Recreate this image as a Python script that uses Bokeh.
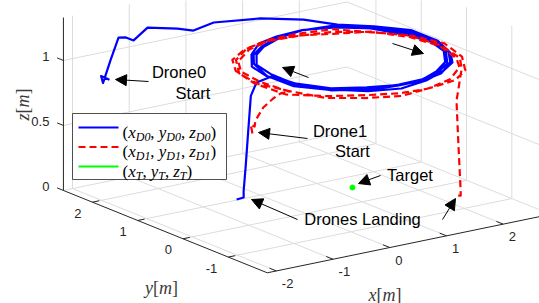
import numpy as np
from bokeh.plotting import figure
from bokeh.models import Range1d, Arrow, NormalHead
from bokeh.core.properties import value
from bokeh.embed import file_html
from bokeh.resources import INLINE

# ---------------- axis data ----------------
X_LIM = [-2.16, 2.84]
Y_LIM = [-1.86, 2.64]
Z_LIM = [0.0, 1.33]
X_TICKS = [-2, -1, 0, 1, 2]
X_TICK_LABELS = ["-2", "-1", "0", "1", "2"]
Y_TICKS = [-1, 0, 1, 2]
Y_TICK_LABELS = ["-1", "0", "1", "2"]
Z_TICKS = [0.0, 0.5, 1.0]
Z_TICK_LABELS = ["0", "0.5", "1"]

# ---------------- Drone 0 (blue) ----------------
D0_START_X = [-1.62, -1.72, -1.75, -1.54, -1.42, -1.33, -1.25, -0.98, -0.66, -0.53, -0.06, 0.60, 1.26, 1.85]
D0_START_Y = [2.30, 2.36, 2.28, 2.38, 2.35, 2.30, 2.23, 2.26, 2.00, 1.81, 1.95, 1.75, 1.62, 1.61]
D0_START_Z = [0.85, 0.88, 0.84, 0.98, 1.15, 1.15, 1.13, 1.20, 1.20, 1.20, 1.20, 1.20, 1.15, 1.06]

D0_LOOP_CENTER = [1.26, 0.56]
D0_LOOP_THETA = [40, 20, 0, -20, -40, -60, -80, -100, -120, -140, -160, -180, -200, -220, -240, -260, -280, -300,
                 -320, -340, -360, -380, -400, -420, -440, -460, -480, -500, -520, -540, -560, -580, -600, -620, -640, -660,
                 -680, -700, -720, -740, -760, -780, -800, -820, -840, -860, -880, -900, -920, -940, -960, -980, -1000, -1020,
                 -1040, -1060, -1080, -1100, -1120, -1140, -1160, -1180, -1200, -1220, -1240, -1260]
D0_LOOP_R = [1.55, 1.57, 1.52, 1.44, 1.39, 1.36, 1.37, 1.43, 1.51, 1.55, 1.55, 1.50, 1.45, 1.38, 1.37, 1.38, 1.42, 1.50,
             1.48, 1.48, 1.44, 1.37, 1.32, 1.29, 1.30, 1.36, 1.42, 1.47, 1.49, 1.43, 1.38, 1.31, 1.30, 1.31, 1.37, 1.43,
             1.52, 1.54, 1.48, 1.41, 1.36, 1.33, 1.34, 1.40, 1.47, 1.51, 1.53, 1.49, 1.42, 1.35, 1.33, 1.35, 1.41, 1.47,
             1.44, 1.45, 1.41, 1.34, 1.29, 1.26, 1.28, 1.33, 1.39, 1.44, 1.46, 1.40]
D0_LOOP_Z = [1.00, 1.01, 1.00, 0.99, 1.00, 1.01, 1.00, 0.99, 1.00, 1.01, 1.00, 1.00, 0.99, 1.00, 1.01, 1.00, 1.00, 0.99,
             1.01, 1.00, 1.00, 1.01, 0.99, 1.00, 1.00, 1.01, 1.00, 0.99, 1.00, 1.01, 1.00, 1.00, 0.99, 1.00, 1.01, 1.00,
             0.99, 1.00, 1.01, 1.00, 1.00, 0.99, 1.00, 1.01, 1.00, 1.00, 0.99, 1.00, 1.01, 1.00, 0.99, 1.00, 1.00, 1.01,
             1.00, 0.99, 1.00, 1.01, 1.00, 1.00, 0.99, 1.00, 1.01, 1.00, 1.00, 0.99]

D0_LAND_X = [-0.24, -0.245, -0.25, -0.255, -0.26, -0.26, -0.40]
D0_LAND_Y = [0.78, 0.90, 0.95, 1.00, 1.04, 1.04, 1.02]
D0_LAND_Z = [0.92, 0.80, 0.53, 0.25, 0.05, 0.00, 0.00]

# ---------------- Drone 1 (red) ----------------
D1_START_X = [-0.56, -0.40, -0.41, -0.38, -0.21, -0.21, -0.20]
D1_START_Y = [0.47, 0.71, 0.61, 0.63, 0.67, 0.45, 0.30]
D1_START_Z = [0.60, 0.62, 0.62, 0.66, 0.74, 0.84, 0.90]

D1_LOOP_CENTER = [1.25, 0.60]
D1_LOOP_THETA = [200, 180, 160, 140, 120, 100, 80, 60, 40, 20, 0, -20, -40, -60, -80, -100, -120, -140,
                 -160, -180, -200, -220, -240, -260, -280, -300, -320, -340, -360, -380, -400, -420, -440, -460, -480, -500,
                 -520, -540, -560, -580, -600, -620, -640, -660, -680, -700, -720, -740, -760]
D1_LOOP_R = [1.58, 1.58, 1.57, 1.53, 1.48, 1.44, 1.45, 1.47, 1.52, 1.59, 1.59, 1.56, 1.52, 1.49, 1.44, 1.44, 1.48, 1.53,
             1.67, 1.66, 1.65, 1.61, 1.56, 1.51, 1.52, 1.56, 1.61, 1.66, 1.68, 1.64, 1.60, 1.57, 1.52, 1.51, 1.55, 1.62,
             1.61, 1.63, 1.60, 1.56, 1.51, 1.47, 1.48, 1.50, 1.56, 1.60, 1.62, 1.61, 1.55]
D1_LOOP_Z = [0.95, 0.96, 0.95, 0.94, 0.95, 0.96, 0.95, 0.94, 0.96, 0.95, 0.95, 0.94, 0.96, 0.95, 0.94, 0.95, 0.96, 0.95,
             0.94, 0.95, 0.96, 0.95, 0.94, 0.95, 0.95, 0.96, 0.94, 0.95, 0.96, 0.95, 0.94, 0.95, 0.96, 0.94, 0.95, 0.95,
             0.96, 0.95, 0.94, 0.95, 0.96, 0.95, 0.94, 0.95, 0.95, 0.96, 0.95, 0.94, 0.95]

D1_LAND_X = [2.20, 2.26, 2.32, 2.33, 2.30]
D1_LAND_Y = [-0.58, -0.55, -0.52, -0.51, -0.49]
D1_LAND_Z = [0.75, 0.38, 0.05, 0.00, 0.00]

# ---------------- Target ----------------
TARGET_X = [1.30]
TARGET_Y = [0.59]
TARGET_Z = [0.00]

# ---------------- annotations (figure pixel coords, like MATLAB annotation()) ----------------
ANNOT_TEXTS = ["Drone0", "Start", "Drone1", "Start", "Target", "Drones Landing"]
ANNOT_TX = [178.5, 192.5, 339.5, 352.0, 409.5, 362.0]
ANNOT_TY = [71.0, 92.0, 130.0, 150.0, 174.0, 218.0]
ARROW_X0 = [148, 307, 380, 297, 442, 308, 392]
ARROW_Y0 = [81, 138, 175, 219, 219, 77, 43]
ARROW_X1 = [115, 258, 358, 251, 455, 282, 423]
ARROW_Y1 = [79, 132, 183, 199, 198, 67, 53]

# ---------------- projection (MATLAB default-like orthographic 3D view) ----------------
ORIGIN = (305.0, 213.0)
EX = (56.7, -11.7)
EY = (-45.3, -18.3)
EZ = -130.0


def proj(x, y, z):
    x = np.asarray(x, dtype=float)
    y = np.asarray(y, dtype=float)
    z = np.asarray(z, dtype=float)
    sx = ORIGIN[0] + EX[0] * x + EY[0] * y
    sy = ORIGIN[1] + EX[1] * x + EY[1] * y + EZ * z
    return sx, sy


def loop_xyz(center, theta, r, z):
    t = np.radians(np.asarray(theta, dtype=float))
    r = np.asarray(r, dtype=float)
    return center[0] + r * np.cos(t), center[1] + r * np.sin(t), np.asarray(z, dtype=float)


def path(sx, sy, sz, center, th, rr, zz, lx, ly, lz):
    cx, cy, cz = loop_xyz(center, th, rr, zz)
    X = np.concatenate([sx, cx, lx])
    Y = np.concatenate([sy, cy, ly])
    Z = np.concatenate([sz, cz, lz])
    return proj(X, Y, Z)


W, H = 539, 303
p = figure(width=W, height=H, x_range=Range1d(0, W), y_range=Range1d(H, 0),
           output_backend="svg", toolbar_location=None, min_border=0,
           x_axis_type=None, y_axis_type=None)
p.outline_line_color = None
p.background_fill_color = "white"
p.border_fill_color = "white"

xmin, xmax = X_LIM
ymin, ymax = Y_LIM
zmin, zmax = Z_LIM

# ---------------- grid ----------------
gxs, gys = [], []


def seg(a, b):
    s = proj([a[0], b[0]], [a[1], b[1]], [a[2], b[2]])
    gxs.append(list(s[0]))
    gys.append(list(s[1]))


for xt in X_TICKS:
    seg((xt, ymin, 0), (xt, ymax, 0))
    seg((xt, ymax, zmin), (xt, ymax, zmax))
for yt in Y_TICKS:
    seg((xmin, yt, 0), (xmax, yt, 0))
    seg((xmax, yt, zmin), (xmax, yt, zmax))
for zt in Z_TICKS:
    seg((xmin, ymax, zt), (xmax, ymax, zt))
    seg((xmax, ymin, zt), (xmax, ymax, zt))
p.multi_line(gxs, gys, line_color="#dcdcdc", line_width=1)

# ---------------- axes lines and ticks ----------------
axc = "#262626"
axx, axy = [], []
for a, b in [((xmin, ymin, 0), (xmax, ymin, 0)),
             ((xmin, ymin, 0), (xmin, ymax, 0)),
             ((xmin, ymax, zmin), (xmin, ymax, zmax))]:
    s = proj([a[0], b[0]], [a[1], b[1]], [a[2], b[2]])
    axx.append(list(s[0]))
    axy.append(list(s[1]))
for xt in X_TICKS:
    s = proj([xt, xt], [ymin, ymin + 0.15], [0, 0])
    axx.append(list(s[0])); axy.append(list(s[1]))
for yt in Y_TICKS:
    s = proj([xmin, xmin + 0.12], [yt, yt], [0, 0])
    axx.append(list(s[0])); axy.append(list(s[1]))
for zt in Z_TICKS:
    s = proj([xmin, xmin], [ymax, ymax + 0.14], [zt, zt])
    axx.append(list(s[0])); axy.append(list(s[1]))
p.multi_line(axx, axy, line_color=axc, line_width=1)

SANS = "Liberation Sans"
sx_, sy_ = proj(X_TICKS, [ymin] * len(X_TICKS), [0] * len(X_TICKS))
p.text(x=list(sx_ + 5.5), y=list(sy_ + 12.5), text=X_TICK_LABELS, text_font=value(SANS),
       text_font_size="13px", text_color=axc, text_align="left", text_baseline="middle")
sx_, sy_ = proj([xmin] * len(Y_TICKS), Y_TICKS, [0] * len(Y_TICKS))
p.text(x=list(sx_ - 11), y=list(sy_ + 11), text=Y_TICK_LABELS, text_font=value(SANS),
       text_font_size="13px", text_color=axc, text_align="right", text_baseline="middle")
sx_, sy_ = proj([xmin] * len(Z_TICKS), [ymax] * len(Z_TICKS), Z_TICKS)
p.text(x=list(sx_ - 14), y=list(sy_ - 4), text=Z_TICK_LABELS, text_font=value(SANS),
       text_font_size="13px", text_color=axc, text_align="right", text_baseline="middle")

# ---------------- trajectories ----------------
bx, by = path(D0_START_X, D0_START_Y, D0_START_Z, D0_LOOP_CENTER, D0_LOOP_THETA, D0_LOOP_R, D0_LOOP_Z,
              D0_LAND_X, D0_LAND_Y, D0_LAND_Z)
p.line(list(bx), list(by), line_color="#0000ff", line_width=2.2, line_join="round")
rx, ry = path(D1_START_X, D1_START_Y, D1_START_Z, D1_LOOP_CENTER, D1_LOOP_THETA, D1_LOOP_R, D1_LOOP_Z,
              D1_LAND_X, D1_LAND_Y, D1_LAND_Z)
p.line(list(rx), list(ry), line_color="#ff0000", line_width=2.2, line_dash="7 4", line_join="round")
tx, ty = proj(TARGET_X, TARGET_Y, TARGET_Z)
p.scatter(list(tx), list(ty), size=5, color="#00ff00")

# ---------------- math-like text helper ----------------
SERIF = "Liberation Serif"
W_ROMAN = {"(": 0.333, ")": 0.333, ",": 0.25, "[": 0.333, "]": 0.333}
W_ITAL = {"x": 0.444, "y": 0.444, "z": 0.389, "m": 0.722, "D": 0.722, "T": 0.556, "0": 0.5, "1": 0.5}
TXT = {}


def layout(parts, size, sub):
    out, pos = [], 0.0
    for txt, kind in parts:
        if kind == "sp":
            pos += 0.24 * size
            continue
        if kind == "r":
            fs, it, dy, tbl = size, False, 0.0, W_ROMAN
        elif kind == "i":
            fs, it, dy, tbl = size, True, 0.0, W_ITAL
        else:
            fs, it, dy, tbl = sub, True, 0.27 * size, W_ITAL
        out.append((pos, dy, txt, it, fs))
        pos += sum(tbl.get(c, 0.5) for c in txt) * fs
    return out, pos


def put_math(parts, size, sub, x0, ybase, color, angle=0.0, center=False):
    pcs, w = layout(parts, size, sub)
    if center:
        x0 = x0 - w / 2 if angle == 0 else x0
        ybase = ybase + w / 2 if angle != 0 else ybase
    for pos, dy, txt, it, fs in pcs:
        if angle == 0:
            x, y = x0 + pos, ybase + dy
        else:
            x, y = x0 + dy, ybase - pos
        key = (it, fs, angle, color)
        d = TXT.setdefault(key, {"x": [], "y": [], "t": []})
        d["x"].append(x); d["y"].append(y); d["t"].append(txt)


def triple(sub):
    return [("(", "r"), ("x", "i"), (sub, "s"), (",", "r"), (" ", "sp"), ("y", "i"), (sub, "s"),
            (",", "r"), (" ", "sp"), ("z", "i"), (sub, "s"), (")", "r")]


def lab(c):
    return [(c, "i"), ("[", "r"), ("m", "i"), ("]", "r")]


labc = "#3a3a3a"
put_math(lab("x"), 18, 12, 384.5, 294.0, labc, center=True)
put_math(lab("y"), 18, 12, 161.0, 287.5, labc, center=True)
put_math(lab("z"), 18, 12, 22.5, 104.0, labc, angle=np.pi / 2, center=True)

# ---------------- legend ----------------
p.quad(left=[72], right=[226], top=[113], bottom=[179], fill_color="white", line_color=axc, line_width=0.8)
LEG_Y = [127, 146.5, 166]
p.line([78, 118], [LEG_Y[0], LEG_Y[0]], line_color="#0000ff", line_width=2.2)
p.line([78, 118], [LEG_Y[1], LEG_Y[1]], line_color="#ff0000", line_width=2.2, line_dash="7 4")
p.line([78, 118], [LEG_Y[2], LEG_Y[2]], line_color="#00ff00", line_width=2.2)
for yy, sub in zip(LEG_Y, ["D0", "D1", "T"]):
    put_math(triple(sub), 17, 12, 122, yy + 4.5, "black")

for (it, fs, ang, col), d in TXT.items():
    p.text(x=d["x"], y=d["y"], text=d["t"], text_font=value(SERIF),
           text_font_style="italic" if it else "normal", text_font_size=f"{fs}px",
           text_color=col, angle=ang, text_align="left", text_baseline="alphabetic")

# ---------------- annotations ----------------
p.text(x=ANNOT_TX, y=ANNOT_TY, text=ANNOT_TEXTS, text_font=value(SANS), text_font_size="16.5px",
       text_color="black", text_align="center", text_baseline="middle")
for x0, y0, x1, y1 in zip(ARROW_X0, ARROW_Y0, ARROW_X1, ARROW_Y1):
    p.add_layout(Arrow(end=NormalHead(size=11, fill_color="black", line_color="black", line_width=1),
                       x_start=x0, y_start=y0, x_end=x1, y_end=y1, line_color="black", line_width=1))

open("out.html", "w").write(file_html(p, INLINE))
